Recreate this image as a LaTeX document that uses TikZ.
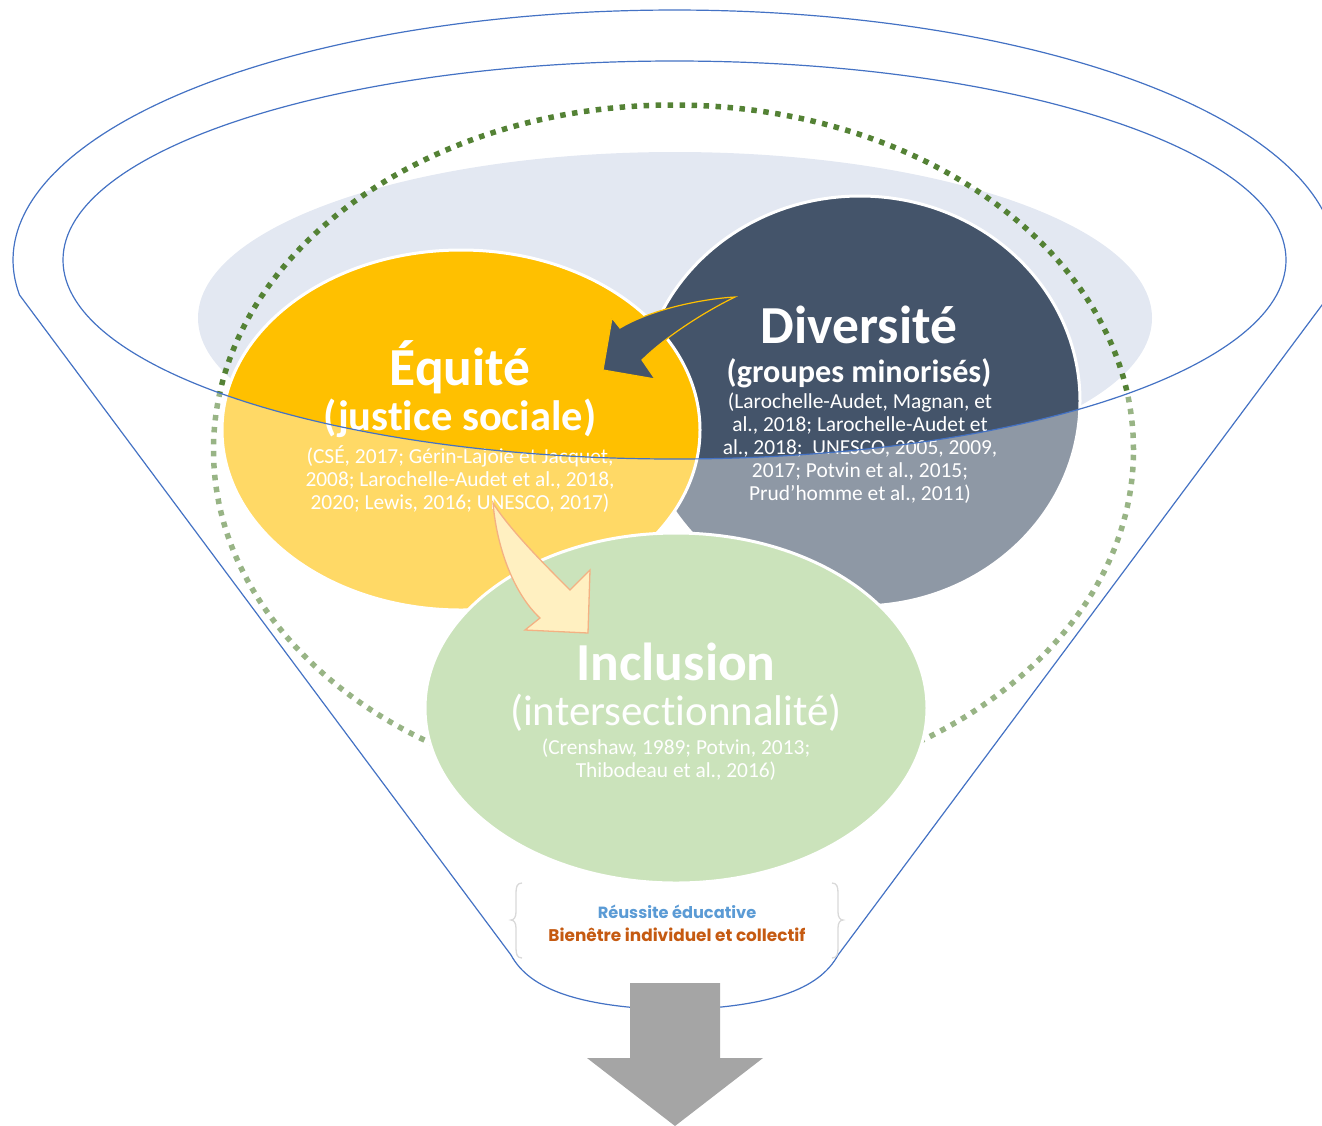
\documentclass[tikz,border=0pt]{standalone}
\usepackage{fontspec}
\setmainfont{Carlito}[Ligatures={NoCommon,NoContextual},RawFeature={-calt}]
\newfontfamily\gothic{Poppins}
\definecolor{bgblue}{RGB}{227,232,242}
\definecolor{dgreen}{RGB}{84,130,53}
\definecolor{slate}{RGB}{68,84,106}
\definecolor{gold}{RGB}{255,192,0}
\definecolor{leaf}{RGB}{169,209,142}
\definecolor{lineblue}{RGB}{68,114,196}
\definecolor{arrfill}{RGB}{255,230,153}
\definecolor{arrline}{RGB}{237,125,49}
\definecolor{txtblue}{RGB}{91,155,213}
\definecolor{txtorange}{RGB}{197,90,17}
\definecolor{arrgray}{RGB}{165,165,165}
\definecolor{bracegray}{RGB}{217,217,217}
\newcommand\funnelpath{plot[domain=171.95:368.05,samples=160] ({674.5+661.5*cos(\x)},{260+250*sin(\x)}) -- (838,955) .. controls (819,990) and (769,1007) .. (674.5,1010) .. controls (580,1007) and (530,990) .. (511,955) -- cycle}
\begin{document}
\begin{tikzpicture}[x=1pt,y=-1pt,
  bigtitle/.style={text=white,font=\fontsize{53.5}{60}\selectfont\bfseries,inner sep=0pt},
  subbold/.style={text=white,font=\fontsize{42.5}{48}\selectfont\bfseries,inner sep=0pt},
  subbold2/.style={text=white,font=\fontsize{32.2}{38}\selectfont\bfseries,inner sep=0pt},
  subreg/.style={text=white,font=\fontsize{43}{49}\selectfont,inner sep=0pt},
  cite/.style={text=white,font=\fontsize{21.4}{23}\selectfont,align=center,inner sep=0pt},
  circ/.style={draw=white,line width=3pt},
  outline/.style={draw=lineblue,line width=1.2pt},
  brace/.style={draw=bracegray,line width=1.3pt}]
\useasboundingbox (0,0) rectangle (1322,1125);
\clip (0,0) rectangle (1322,1125);
% background
\fill[bgblue] (675,318) ellipse [x radius=477pt, y radius=166pt];
\draw[dgreen,line width=5.5pt,dash pattern=on 5.5pt off 6.5pt] (673.5,450) ellipse [x radius=460pt, y radius=345pt];
% Diversite
\fill[slate,circ] (860,401) ellipse [x radius=220pt, y radius=205pt];
\node[bigtitle] (div) at (859,325) {Diversité};
\node[subbold2] (divsub) at (859,373) {(groupes minorisés)};
\node[cite] (divcite) at (860,448) {(Larochelle-Audet, Magnan, et\\al., 2018; Larochelle-Audet et\\al., 2018;\ \ UNESCO, 2005, 2009,\\2017; Potvin et al., 2015;\\Prud’homme et al., 2011)};
% Equite
\fill[gold,circ] (461,430) ellipse [x radius=239pt, y radius=180pt];
\node[bigtitle] (eq) at (460,367) {Équité};
\node[subbold] (eqsub) at (460,418) {(justice sociale)};
\node[cite] (eqcite) at (460,479) {(CSÉ, 2017; Gérin-Lajoie et Jacquet,\\2008; Larochelle-Audet et al., 2018,\\2020; Lewis, 2016; UNESCO, 2017)};
% dark curved arrow
\fill[slate,draw=gold,line width=1.2pt,line join=miter] (735,297) .. controls (700,299) and (650,310) .. (620,328) -- (612,318) -- (603,370) -- (655,379) -- (642,360) .. controls (662,340) and (700,314) .. (735,297) -- cycle;
% Inclusion
\fill[leaf,circ] (676,708) ellipse [x radius=251pt, y radius=175pt];
\node[bigtitle] (inc) at (676,662) {Inclusion};
\node[subreg] (incsub) at (676,713) {(intersectionnalité)};
\node[cite] (inccite) at (676,760) {(Crenshaw, 1989; Potvin, 2013;\\Thibodeau et al., 2016)};
% yellow arrow
\fill[arrfill,draw=arrline,line width=1.3pt] (493,503) .. controls (497,550) and (515,595) .. (540,618) -- (525,630) -- (588,633) -- (590,570) -- (570,590) .. controls (545,565) and (510,530) .. (493,503) -- cycle;
% funnel overlay
\fill[white,opacity=0.4,even odd rule] \funnelpath (674.5,260) ellipse [x radius=611.5pt, y radius=199pt];
\draw[outline] \funnelpath;
\draw[outline] (674.5,260) ellipse [x radius=611.5pt, y radius=199pt];
% braces
\draw[brace] (522,883) .. controls (517,883) and (516,887) .. (516,893) -- (516,912) .. controls (516,917) and (514,920) .. (511,920) .. controls (514,920) and (516,923) .. (516,928) -- (516,948) .. controls (516,954) and (517,958) .. (522,958);
\draw[brace] (832,883) .. controls (837,883) and (838,887) .. (838,893) -- (838,912) .. controls (838,917) and (840,920) .. (843,920) .. controls (840,920) and (838,923) .. (838,928) -- (838,948) .. controls (838,954) and (837,958) .. (832,958);
\node[text=txtblue,font=\gothic\bfseries\fontsize{16.2}{19}\selectfont,inner sep=0pt] (reu) at (677,912) {Réussite éducative};
\node[text=txtorange,font=\gothic\bfseries\fontsize{16.9}{19}\selectfont,inner sep=0pt] (bien) at (677,935) {Bienêtre individuel et collectif};
% gray arrow
\fill[arrgray] (630,983) -- (720,983) -- (720,1058) -- (763,1058) -- (675,1126) -- (587,1058) -- (630,1058) -- cycle;
\end{tikzpicture}
\end{document}
